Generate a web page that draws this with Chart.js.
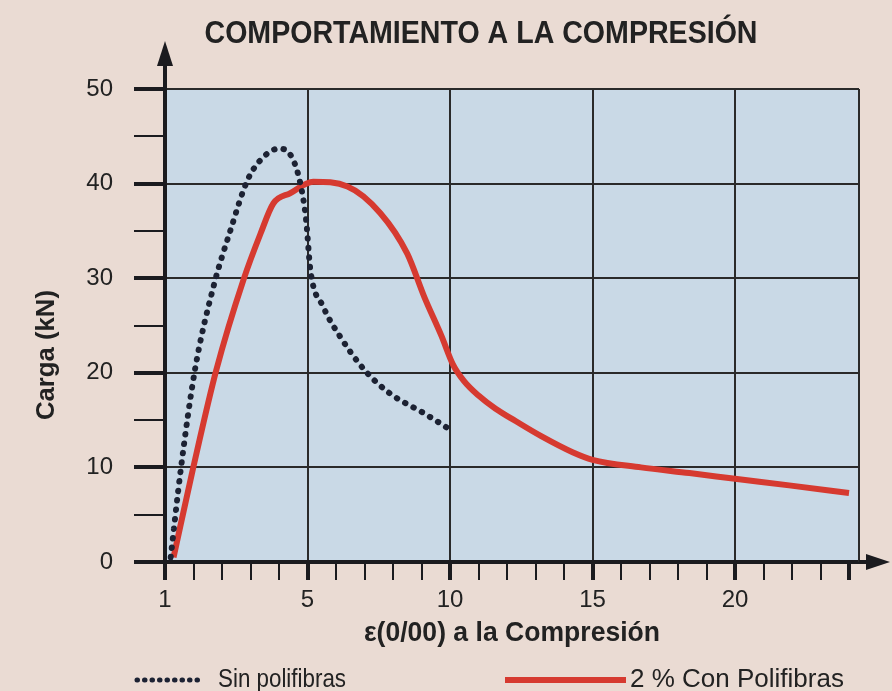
<!DOCTYPE html>
<html>
<head>
<meta charset="utf-8">
<script src="https://cdn.jsdelivr.net/npm/chart.js@4/dist/chart.umd.min.js"></script>
<style>
html, body { margin: 0; padding: 0; background: #e9dcd3; }
</style>
</head>
<body>
<canvas id="myChart" width="892" height="691"></canvas>
<script>
// ----- data -----
const sinStrain = [0.2, 0.55, 1.05, 1.7, 2.3, 2.9, 3.45, 4.0, 4.45, 4.75, 4.95, 5.1, 5.55, 6.15, 7.0, 7.9, 9.1, 10.0];
const sinLoad   = [0.5, 9.7, 20.3, 29.1, 35.1, 40.4, 42.8, 43.7, 42.8, 40.0, 36.2, 30.9, 27.0, 23.8, 20.3, 17.8, 15.7, 14.0];

const conStrain = [0.3, 1.0, 1.8, 2.75, 3.35, 3.8, 4.4, 5.2, 6.4, 7.55, 8.5, 9.1, 9.7, 10.1, 10.5, 11.0, 11.6, 12.3, 13.2, 14.3, 15.0, 16.7, 18.4, 20.0, 21.9, 24.0];
const conLoad   = [0.5, 10.1, 20.3, 29.8, 34.7, 37.9, 39.0, 40.2, 39.7, 36.9, 32.6, 28.0, 23.9, 20.9, 19.1, 17.6, 16.2, 14.9, 13.3, 11.6, 10.8, 10.0, 9.4, 8.8, 8.1, 7.3];

const xMajor = [5, 10, 15, 20];
const xLabels = { 0: '1', 5: '5', 10: '10', 15: '15', 20: '20' };
const seriesNames = ['Sin polifibras', '2 % Con Polifibras'];

const dark = '#1b1b1f';
const ink = '#222';

function toPoints(xs, ys) {
    return xs.map((x, i) => ({ x: x, y: ys[i] }));
}

// paper, plot background, arrows and the texts
const paper = {
    id: 'paper',
    beforeDraw(chart) {
        const c = chart.ctx, a = chart.chartArea;
        c.save();
        c.fillStyle = '#eadbd3';
        c.fillRect(0, 0, chart.width, chart.height);
        c.fillStyle = '#c9d9e6';
        c.fillRect(a.left, a.top, a.right - a.left, a.bottom - a.top);
        c.restore();
    },
    afterDraw(chart) {
        const c = chart.ctx, a = chart.chartArea;
        c.save();
        // right border
        c.strokeStyle = '#2a2a2a';
        c.lineWidth = 2;
        c.beginPath();
        c.moveTo(a.right, a.top);
        c.lineTo(a.right, a.bottom);
        c.stroke();

        // axis arrows
        c.strokeStyle = dark;
        c.fillStyle = dark;
        c.lineWidth = 4;
        c.beginPath();
        c.moveTo(a.left, a.top);
        c.lineTo(a.left, 60);
        c.moveTo(a.right, a.bottom);
        c.lineTo(872, a.bottom);
        c.stroke();
        c.beginPath();
        c.moveTo(a.left, 41);
        c.lineTo(a.left - 8, 66);
        c.lineTo(a.left + 8, 66);
        c.closePath();
        c.fill();
        c.beginPath();
        c.moveTo(890, a.bottom);
        c.lineTo(866, a.bottom - 8);
        c.lineTo(866, a.bottom + 8);
        c.closePath();
        c.fill();

        // title and axis titles
        c.fillStyle = ink;
        c.textAlign = 'center';
        c.textBaseline = 'middle';
        c.font = 'bold 31px "Liberation Sans", Arial, sans-serif';
        c.fillText('COMPORTAMIENTO A LA COMPRESIÓN', 481, 34, 553);
        c.font = 'bold 27px "Liberation Sans", Arial, sans-serif';
        c.fillText('ε(0/00) a la Compresión', 512, 634, 296);
        c.save();
        c.translate(47, 355);
        c.rotate(-Math.PI / 2);
        c.font = 'bold 26px "Liberation Sans", Arial, sans-serif';
        c.fillText('Carga (kN)', 0, 0, 130);
        c.restore();

        // legend
        const ly = 680;
        c.strokeStyle = '#1c2233';
        c.lineWidth = 5;
        c.lineCap = 'round';
        c.setLineDash([0.5, 7]);
        c.beginPath();
        c.moveTo(137, ly);
        c.lineTo(204, ly);
        c.stroke();
        c.setLineDash([]);
        c.lineCap = 'butt';
        c.strokeStyle = '#d63a30';
        c.lineWidth = 6;
        c.beginPath();
        c.moveTo(505, ly);
        c.lineTo(626, ly);
        c.stroke();
        c.fillStyle = ink;
        c.textAlign = 'left';
        c.font = '26px "Liberation Sans", Arial, sans-serif';
        c.fillText(seriesNames[0], 218, ly, 128);
        c.fillText(seriesNames[1], 630, ly, 226);
        c.restore();
    }
};

new Chart(document.getElementById('myChart'), {
    type: 'line',
    data: {
        datasets: [{
            label: seriesNames[0],
            data: toPoints(sinStrain, sinLoad),
            borderColor: '#1c2233',
            borderWidth: 6,
            borderDash: [0.5, 9],
            borderCapStyle: 'round',
            cubicInterpolationMode: 'monotone',
            pointRadius: 0,
            fill: false
        }, {
            label: seriesNames[1],
            data: toPoints(conStrain, conLoad),
            borderColor: '#d63a30',
            borderWidth: 6,
            cubicInterpolationMode: 'monotone',
            pointRadius: 0,
            fill: false
        }]
    },
    options: {
        responsive: false,
        animation: false,
        layout: { padding: { top: 89, right: 33, left: 0, bottom: 0 } },
        plugins: {
            legend: { display: false },
            title: { display: false },
            tooltip: { enabled: false }
        },
        scales: {
            x: {
                type: 'linear',
                min: 0,
                max: 24.35,
                afterFit: (s) => { s.height = 129; },
                border: { display: true, color: dark, width: 4 },
                grid: {
                    color: (ctx) => xMajor.includes(ctx.tick.value) ? '#2a2a2a' : 'rgba(0,0,0,0)',
                    lineWidth: 2,
                    tickColor: dark,
                    tickWidth: (ctx) => (ctx.tick.value % 5 === 0 || ctx.tick.value === 24) ? 4 : 2,
                    tickLength: 18
                },
                ticks: {
                    stepSize: 1,
                    includeBounds: false,
                    autoSkip: false,
                    maxRotation: 0,
                    padding: 6,
                    color: ink,
                    font: { family: '"Liberation Sans", Arial, sans-serif', size: 24 },
                    callback: (v) => xLabels[v] !== undefined ? xLabels[v] : ''
                }
            },
            y: {
                min: 0,
                max: 50,
                afterFit: (s) => { s.width = 165; },
                border: { display: true, color: dark, width: 4 },
                grid: {
                    color: (ctx) => (ctx.tick.value % 10 === 0 && ctx.tick.value > 0) ? '#2a2a2a' : 'rgba(0,0,0,0)',
                    lineWidth: 2,
                    tickColor: dark,
                    tickWidth: (ctx) => ctx.tick.value % 10 === 0 ? 4 : 2,
                    tickLength: 31
                },
                ticks: {
                    stepSize: 5,
                    autoSkip: false,
                    padding: 21,
                    color: ink,
                    font: { family: '"Liberation Sans", Arial, sans-serif', size: 24 },
                    callback: (v) => v % 10 === 0 ? v : ''
                }
            }
        }
    },
    plugins: [paper]
});
</script>
</body>
</html>
